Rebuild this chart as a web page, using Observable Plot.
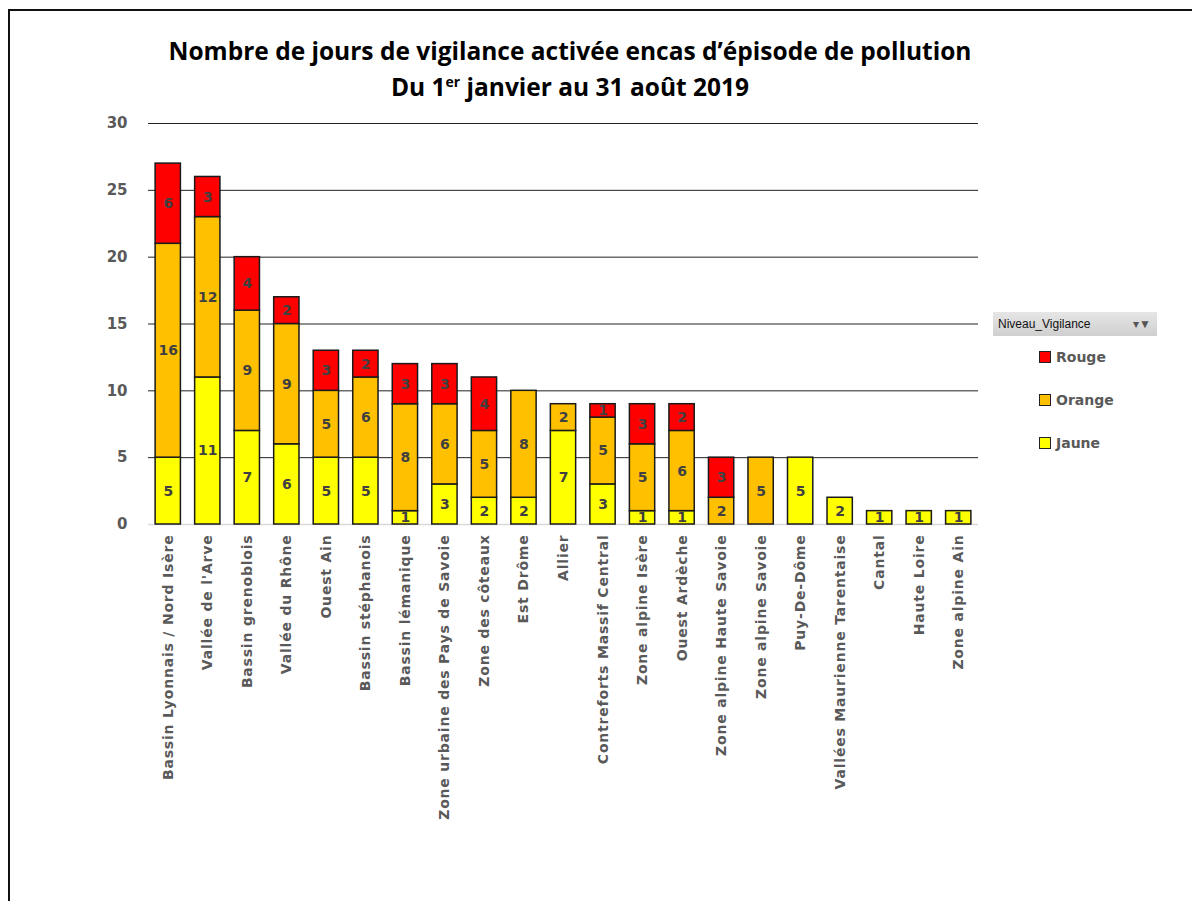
<!DOCTYPE html>
<html>
<head>
<meta charset="utf-8">
<script src="https://cdn.jsdelivr.net/npm/d3@7"></script>
<script src="https://cdn.jsdelivr.net/npm/@observablehq/plot@0.6"></script>
<style>
  html, body { margin: 0; padding: 0; background: #fff; }
  #page { position: relative; width: 1192px; height: 901px; overflow: hidden; }
  #frame { position: absolute; left: 8px; top: 9px; width: 1300px; height: 1000px; border: 2px solid #111; box-sizing: border-box; }
  #title { position: absolute; left: 0; top: 33px; width: 1140px; text-align: center;
    font-family: "Open Sans", "Lato", sans-serif; font-weight: bold; font-size: 24.5px; line-height: 36px; color: #000; }
  #title sup { font-size: 14px; line-height: 0; }
  #chart { position: absolute; left: 0; top: 0; }
  .xax text { letter-spacing: 0.8px; }
  #legend { position: absolute; left: 993px; top: 312px; font-family: "DejaVu Sans", sans-serif; }
  #legend .hdr { width: 164px; height: 24px; box-sizing: border-box; background: linear-gradient(#e6e6e6, #cfcfcf);
    font-size: 12px; line-height: 24px; padding-left: 5px; color: #111; position: relative; font-family: "Liberation Sans", sans-serif; }
  #legend .hdr .ic { position: absolute; right: 6px; top: 0; font-size: 12px; color: #555; }
  #legend .item { position: absolute; left: 46px; font-size: 14px; font-weight: bold; color: #595959; white-space: nowrap; }
  #legend .sw { display: inline-block; width: 10px; height: 10px; border: 1px solid #222; margin-right: 5px; vertical-align: -1px; }
</style>
</head>
<body>
<div id="page">
  <div id="frame"></div>
  <div id="chart"></div>
  <div id="title">Nombre de jours de vigilance activée encas d’épisode de pollution<br>Du 1<sup>er</sup> janvier au 31 août 2019</div>
  <div id="legend"></div>
</div>
<script>
const zones = [
  "Bassin Lyonnais / Nord Isère", "Vallée de l'Arve", "Bassin grenoblois", "Vallée du Rhône",
  "Ouest Ain", "Bassin stéphanois", "Bassin lémanique", "Zone urbaine des Pays de Savoie",
  "Zone des côteaux", "Est Drôme", "Allier", "Contreforts Massif Central", "Zone alpine Isère",
  "Ouest Ardèche", "Zone alpine Haute Savoie", "Zone alpine Savoie", "Puy-De-Dôme",
  "Vallées Maurienne Tarentaise", "Cantal", "Haute Loire", "Zone alpine Ain"
];
const jaune  = [5, 11, 7, 6, 5, 5, 1, 3, 2, 2, 7, 3, 1, 1, 0, 0, 5, 2, 1, 1, 1];
const orange = [16, 12, 9, 9, 5, 6, 8, 6, 5, 8, 2, 5, 5, 6, 2, 5, 0, 0, 0, 0, 0];
const rouge  = [6, 3, 4, 2, 3, 2, 3, 3, 4, 0, 0, 1, 3, 2, 3, 0, 0, 0, 0, 0, 0];
const levels = ["Jaune", "Orange", "Rouge"];
const colors = ["#FFFF00", "#FFC000", "#FF0000"];
const yTicks = [0, 5, 10, 15, 20, 25, 30];

const series = [jaune, orange, rouge];
const data = [];
zones.forEach((z, i) => {
  levels.forEach((lv, k) => {
    const v = series[k][i];
    if (v > 0) data.push({zone: z, level: lv, value: v, order: k});
  });
});

const chart = Plot.plot({
  width: 1192,
  height: 901,
  marginLeft: 148,
  marginRight: 214,
  marginTop: 123,
  marginBottom: 377,
  style: {background: "transparent", overflow: "visible"},
  x: {domain: zones, paddingInner: 0.36, paddingOuter: 0.18, round: false, label: null},
  y: {domain: [0, 30], ticks: yTicks, label: null},
  color: {domain: levels, range: colors},
  marks: [
    Plot.gridY(yTicks.filter(t => t > 0), {stroke: "#222", strokeOpacity: 1, strokeWidth: 1}),
    Plot.ruleY([0], {stroke: "#d9d9d9", strokeWidth: 1.5}),
    Plot.barY(data, Plot.stackY({
      x: "zone", y: "value", z: "level", order: levels, fill: "level",
      stroke: "#1a1a1a", strokeWidth: 1.5
    })),
    Plot.text(data, Plot.stackY({
      x: "zone", y: "value", z: "level", order: levels, text: "value",
      fill: "#404040", fontWeight: "bold", fontSize: 14, fontFamily: "DejaVu Sans"
    })),
    Plot.axisY({ticks: yTicks, tickSize: 0, tickPadding: 21, fontSize: 15, fontWeight: "bold",
      fontFamily: "DejaVu Sans", fill: "#595959", label: null}),
    Plot.axisX({tickRotate: -90, tickSize: 0, tickPadding: 10, fontSize: 14, fontWeight: "bold",
      fontFamily: "DejaVu Sans", fill: "#595959", label: null, className: "xax"})
  ]
});
document.getElementById("chart").appendChild(chart);

// legend
const lg = document.getElementById("legend");
const hdr = document.createElement("div");
hdr.className = "hdr";
hdr.innerHTML = "Niveau_Vigilance<span class='ic'>▾▼</span>";
lg.appendChild(hdr);
const legendOrder = [2, 1, 0];
legendOrder.forEach((k, j) => {
  const it = document.createElement("div");
  it.className = "item";
  it.style.top = (37 + j * 43) + "px";
  it.innerHTML = `<span class="sw" style="background:${colors[k]}"></span>${levels[k]}`;
  lg.appendChild(it);
});
</script>
</body>
</html>
